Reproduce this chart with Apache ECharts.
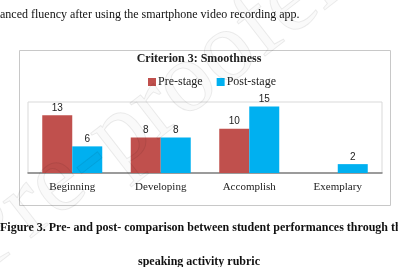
<!DOCTYPE html>
<html>
<head>
<meta charset="utf-8">
<script src="https://cdn.jsdelivr.net/npm/echarts@6/dist/echarts.min.js"></script>
<style>
  html, body { margin: 0; padding: 0; background: #fff; }
  #root { width: 398px; height: 267px; }
</style>
</head>
<body>
<div id="root"></div>
<script>
var categories = ['Beginning', 'Developing', 'Accomplish', 'Exemplary'];
var preStage = [13, 8, 10, null];
var postStage = [6, 8, 15, 2];

var serif = '"Liberation Serif", "Times New Roman", serif';
var sans = '"Liberation Sans", Arial, sans-serif';

var myChart = echarts.init(document.getElementById('root'));
var option = {
    backgroundColor: '#fff',
    animation: false,
    title: {
        text: 'Criterion 3: Smoothness',
        left: 'center',
        top: 48,
        textStyle: { fontFamily: serif, fontSize: 12, fontWeight: 'bold', color: '#222' }
    },
    legend: {
        data: ['Pre-stage', 'Post-stage'],
        top: 71,
        left: 143,
        itemWidth: 8,
        itemHeight: 8,
        itemGap: 14,
        icon: 'rect',
        textStyle: { fontFamily: serif, fontSize: 12, color: '#222', padding: [0, 0, 0, -3] }
    },
    grid: { left: 28, right: 16, top: 102, bottom: 94, show: true, borderColor: '#d9d9d9', borderWidth: 1 },
    xAxis: {
        type: 'category',
        data: categories,
        axisTick: { show: false },
        axisLine: { lineStyle: { color: '#808080', width: 1.5 } },
        axisLabel: { fontFamily: serif, fontSize: 11, color: '#222', margin: 9 }
    },
    yAxis: {
        type: 'value',
        min: 0,
        max: 16,
        show: false
    },
    series: [
        {
            name: 'Pre-stage',
            type: 'bar',
            data: preStage,
            barWidth: 30,
            barGap: '0%',
            itemStyle: { color: '#C0504D' },
            label: { show: true, position: 'top', distance: 2, fontFamily: sans, fontSize: 10, color: '#222' }
        },
        {
            name: 'Post-stage',
            type: 'bar',
            data: postStage,
            barWidth: 30,
            itemStyle: { color: '#00B0F0' },
            label: { show: true, position: 'top', distance: 2, fontFamily: sans, fontSize: 10, color: '#222' }
        }
    ],
    graphic: [
        {
            type: 'rect',
            shape: { x: 19.5, y: 50.5, width: 371, height: 155 },
            style: { fill: 'none', stroke: '#c8c8c8', lineWidth: 1 },
            z: -1
        },
        {
            type: 'text',
            left: 0,
            top: 9,
            style: { text: 'anced fluency after using the smartphone video recording app.', font: '12px ' + serif, fill: '#111' }
        },
        {
            type: 'text',
            left: 0,
            top: 222,
            style: { text: 'Figure 3. Pre- and post- comparison between student performances through the', font: 'bold 12px ' + serif, fill: '#111' }
        },
        {
            type: 'text',
            left: 'center',
            top: 256,
            style: { text: 'speaking activity rubric', font: 'bold 12px ' + serif, fill: '#111' }
        },
        {
            type: 'text',
            x: 0, y: 292,
            rotation: 0.66,
            style: { text: 'Pre-proofers', font: '100px ' + serif, fill: 'rgba(0,0,0,0.02)', stroke: 'rgba(0,0,0,0.08)', lineWidth: 1, verticalAlign: 'bottom' },
            z: 100
        }
    ]
};
myChart.setOption(option);
</script>
</body>
</html>
